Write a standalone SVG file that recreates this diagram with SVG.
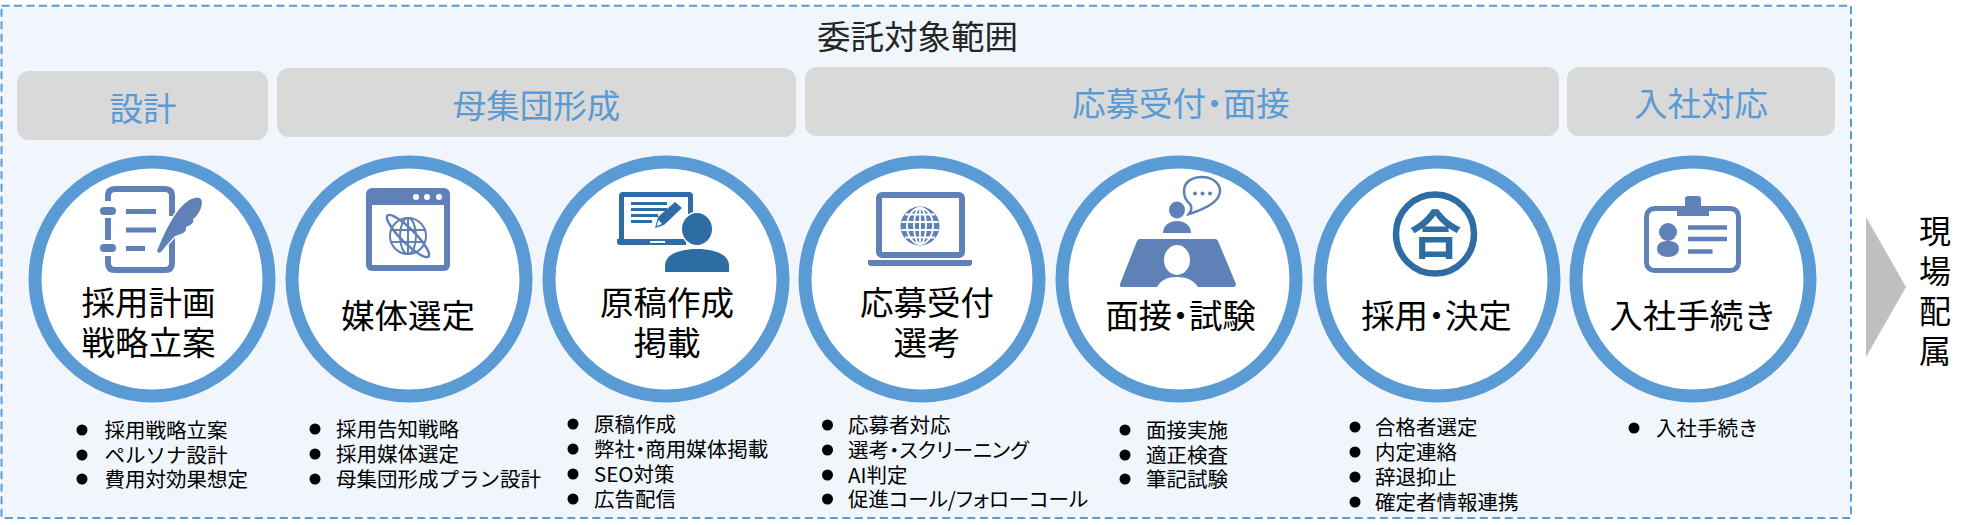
<svg xmlns="http://www.w3.org/2000/svg" width="1973" height="525" viewBox="0 0 1973 525">
<style>
text{font-family:"Noto Sans CJK JP","Noto Sans",sans-serif}
.panel{fill:#F0F6FB;stroke:#5B9BD5;stroke-width:2;stroke-dasharray:8 4.5}
.band{fill:#D9D9D9}
.bl{font-size:33.5px;fill:#5B9BD5;text-anchor:middle}
.ring{fill:#fff;stroke:#5B9BD5;stroke-width:13}
.nl{font-size:33.5px;fill:#000;text-anchor:middle}
.li{font-size:20.5px;fill:#000}
.dot,.kana{font-feature-settings:"palt"}
.ic{fill:#6080B8}
.id{fill:#2E6DA4}
.sk{fill:none;stroke:#6080B8;stroke-width:6}
.skd{fill:none;stroke:#2E6DA4}
.gl{fill:none;stroke:#6080B8;stroke-width:2}
</style>
<defs>
<circle id="b" r="5.5" fill="#000"/>
</defs>
<rect class="panel" x="1.500" y="5.700" width="1849.500" height="512.300"/>
<text x="917.5" y="49" font-size="33.5" fill="#262626" text-anchor="middle">委託対象範囲</text>

<g id="band-design"><rect class="band" x="17" y="71" width="251" height="69" rx="12"/><text class="bl" x="143" y="121">設計</text></g>
<g id="band-pool"><rect class="band" x="277" y="68" width="519" height="69" rx="12"/><text class="bl" x="536.5" y="118">母集団形成</text></g>
<g id="band-apply"><rect class="band" x="805" y="67" width="754" height="69" rx="12"/><text class="bl" x="1181" y="116">応募受付<tspan class="dot">・</tspan>面接</text></g>
<g id="band-join"><rect class="band" x="1567" y="67" width="268" height="69" rx="12"/><text class="bl" x="1701" y="116">入社対応</text></g>

<g id="node-plan">
<circle class="ring" cx="152" cy="279" r="117"/>
<path class="sk" d="M108 201V196Q108 189 115 189H165Q172 189 172 196V216M108 218V240M108 256V263Q108 270 115 270H165Q172 270 172 263V238"/>
<rect class="ic" x="100" y="207" width="16" height="8" rx="4"/><rect class="ic" x="100" y="244" width="16" height="8" rx="4"/>
<path d="M126 211.500H156M126 230H156M126 248.500H145" fill="none" stroke="#6080B8" stroke-width="5"/>
<path d="M157 251C163 236 172 216 183 205C190 198 198 196 201 199C204 204 199 215 193 219C195 224 188 226 186 227C187 233 181 234 175 236C171 240 165 247 161 252Q158 254 157 251Z" class="ic" stroke="#fff" stroke-width="3" paint-order="stroke"/>
<text class="nl"><tspan x="148.500" y="315">採用計画</tspan><tspan x="148.500" y="355">戦略立案</tspan></text>
</g>

<g id="node-media">
<circle class="ring" cx="409" cy="279" r="117"/>
<rect class="ic" x="366" y="188" width="84" height="83" rx="6"/>
<rect x="372" y="205" width="72" height="60" fill="#fff"/>
<g fill="#fff"><circle cx="416" cy="197" r="3"/><circle cx="427" cy="197" r="3"/><circle cx="439" cy="197" r="3"/></g>
<g class="gl"><circle cx="408" cy="236" r="18"/><ellipse cx="408" cy="236" rx="8" ry="18"/><path d="M408 218V254M391 230H425M391 242H425"/><ellipse cx="408" cy="236" rx="29" ry="7" transform="rotate(45 408 236)" stroke-width="2.500"/></g>
<text class="nl" x="408" y="328">媒体選定</text>
</g>

<g id="node-draft">
<circle class="ring" cx="666" cy="279" r="117"/>
<path d="M621.500 240V196Q621.500 194.500 623 194.500H689Q690.500 194.500 690.500 196V232" class="skd" stroke-width="5"/>
<path class="id" d="M617 239H686V245H620Q617 245 617 242Z"/>
<rect x="650" y="241" width="15" height="2" fill="#fff"/>
<path d="M631 203.500H667M631 209.500H667M631 215.500H658M631 221.500H652" class="skd" stroke-width="3"/>
<path class="id" d="M655 228L658 217L675 202L682 208L664 225Z"/>
<path d="M656.500 226L658.500 220L662 224Z" fill="#fff"/>
<ellipse class="id" cx="697" cy="229" rx="15" ry="16" stroke="#fff" stroke-width="3" paint-order="stroke"/>
<path class="id" d="M665 272V266C665 254 680 249 697 249C714 249 729 254 729 266V272Z"/>
<text class="nl"><tspan x="667" y="315">原稿作成</tspan><tspan x="667" y="355">掲載</tspan></text>
</g>

<g id="node-apply">
<circle class="ring" cx="922" cy="279" r="117"/>
<rect x="879" y="195" width="83" height="60" rx="3" class="sk"/>
<path class="ic" d="M868 260H972V263Q972 266 969 266H871Q868 266 868 263Z"/>
<circle cx="920" cy="226" r="19.500" class="ic"/>
<g fill="none" stroke="#fff" stroke-width="1.800"><ellipse cx="920" cy="226" rx="6" ry="18"/><ellipse cx="920" cy="226" rx="13" ry="18"/><path d="M920 208V244M901.500 222H938.500M901.500 230H938.500M905 214.500H935M905 237.500H935"/></g>
<text class="nl"><tspan x="927" y="315">応募受付</tspan><tspan x="927" y="355">選考</tspan></text>
</g>

<g id="node-interview">
<circle class="ring" cx="1179" cy="279" r="117"/>
<path d="M1190 204C1185 200 1184 194 1184 191C1184 182 1192 177 1202 177C1212 177 1220 183 1220 191C1220 202 1205 209 1189 214C1192 210 1192 207 1190 204Z" fill="none" stroke="#6080B8" stroke-width="2.500"/>
<g class="ic"><circle cx="1195" cy="193.500" r="2"/><circle cx="1202.500" cy="193.500" r="2"/><circle cx="1210" cy="193.500" r="2"/></g>
<ellipse class="ic" cx="1177" cy="210" rx="8" ry="8.500"/>
<path class="ic" d="M1163 233C1163 225 1170 221 1177 221C1184 221 1191 225 1191 233Z"/>
<path class="ic" d="M1140 239H1215Q1217 239 1218 241L1236 284Q1236 287 1233 287H1198C1193 280 1187 277 1177 277C1167 277 1161 280 1157 287H1122Q1119 287 1120 284L1137 241Q1138 239 1140 239Z"/>
<ellipse cx="1177" cy="260" rx="13" ry="15" fill="#fff"/>
<text class="nl" x="1180.500" y="328">面接<tspan class="dot">・</tspan>試験</text>
</g>

<g id="node-decide">
<circle class="ring" cx="1437" cy="279" r="117"/>
<ellipse cx="1435" cy="234" rx="39" ry="39.500" class="skd" stroke-width="6.500"/>
<text x="1435.500" y="254" font-size="52" font-weight="700" fill="#2E6DA4" text-anchor="middle">合</text>
<text class="nl" x="1436.500" y="328">採用<tspan class="dot">・</tspan>決定</text>
</g>

<g id="node-join">
<circle class="ring" cx="1693" cy="279" r="117"/>
<rect x="1646.500" y="208.500" width="92" height="62" rx="8" fill="none" stroke="#6080B8" stroke-width="5"/>
<path class="ic" d="M1677 216V210Q1677 206 1681 206H1685V199Q1685 196 1688 196H1698Q1701 196 1701 199V206H1705Q1709 206 1709 210V216Z"/>
<circle class="ic" cx="1668" cy="232" r="9"/>
<path class="ic" d="M1657 249C1657 243 1662 241 1668 241C1674 241 1679 243 1679 249C1679 254 1674 257 1668 257C1662 257 1657 254 1657 249Z"/>
<path d="M1688 227.500H1727M1688 239H1727M1688 251.500H1712.500" fill="none" stroke="#6080B8" stroke-width="4.500"/>
<text class="nl" x="1693" y="328">入社手続き</text>
</g>

<g id="list-plan">
<use href="#b" x="82" y="430"/><use href="#b" x="82" y="455"/><use href="#b" x="82" y="479"/>
<text class="li"><tspan x="104.500" y="437.500">採用戦略立案</tspan><tspan x="104.500" y="462.500">ペルソナ設計</tspan><tspan x="104.500" y="486.500">費用対効果想定</tspan></text>
</g>
<g id="list-media">
<use href="#b" x="315" y="429"/><use href="#b" x="315" y="454"/><use href="#b" x="315" y="479"/>
<text class="li"><tspan x="336" y="436.500">採用告知戦略</tspan><tspan x="336" y="461.500">採用媒体選定</tspan><tspan x="336" y="486.500">母集団形成プラン設計</tspan></text>
</g>
<g id="list-draft">
<use href="#b" x="573" y="424"/><use href="#b" x="573" y="449"/><use href="#b" x="573" y="474"/><use href="#b" x="573" y="499"/>
<text class="li"><tspan x="594" y="431.500">原稿作成</tspan><tspan x="594" y="456.500">弊社<tspan class="dot">・</tspan>商用媒体掲載</tspan><tspan x="594" y="481.500">SEO対策</tspan><tspan x="594" y="506.500">広告配信</tspan></text>
</g>
<g id="list-apply">
<use href="#b" x="827.500" y="425"/><use href="#b" x="827.500" y="450"/><use href="#b" x="827.500" y="475"/><use href="#b" x="827.500" y="499"/>
<text class="li"><tspan x="848" y="432.500">応募者対応</tspan><tspan x="848" y="457.500">選考<tspan class="kana">・スクリーニング</tspan></tspan><tspan x="848" y="482.500">AI判定</tspan><tspan x="848" y="506.500">促進<tspan class="kana">コール/フォローコール</tspan></tspan></text>
</g>
<g id="list-interview">
<use href="#b" x="1125" y="430"/><use href="#b" x="1125" y="455"/><use href="#b" x="1125" y="479"/>
<text class="li"><tspan x="1146" y="437.500">面接実施</tspan><tspan x="1146" y="462.500">適正検査</tspan><tspan x="1146" y="486.500">筆記試験</tspan></text>
</g>
<g id="list-decide">
<use href="#b" x="1355" y="427"/><use href="#b" x="1355" y="452"/><use href="#b" x="1355" y="477"/><use href="#b" x="1355" y="502"/>
<text class="li"><tspan x="1375" y="434.500">合格者選定</tspan><tspan x="1375" y="459.500">内定連絡</tspan><tspan x="1375" y="484.500">辞退抑止</tspan><tspan x="1375" y="509.500">確定者情報連携</tspan></text>
</g>
<g id="list-join">
<use href="#b" x="1634" y="428"/>
<text class="li" x="1656" y="435.500">入社手続き</text>
</g>

<g id="connectors"><path d="M1866 217L1906 287L1866 357Z" fill="#BFBFBF"/></g>
<g id="node-site">
<text font-size="32" fill="#000" text-anchor="middle"><tspan x="1935" y="243">現</tspan><tspan x="1935" y="283">場</tspan><tspan x="1935" y="323">配</tspan><tspan x="1935" y="363">属</tspan></text>
</g>
</svg>
